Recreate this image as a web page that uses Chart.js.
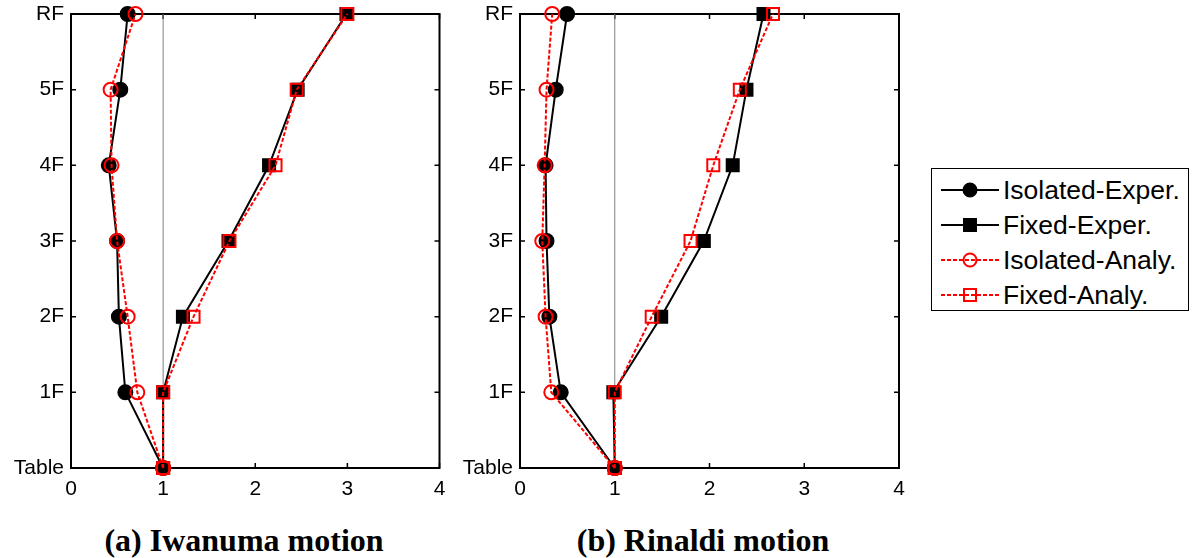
<!DOCTYPE html>
<html>
<head>
<meta charset="utf-8">
<script src="https://cdn.jsdelivr.net/npm/chart.js@4/dist/chart.umd.min.js"></script>
<style>
  body { margin: 0; background: #fff; width: 1193px; height: 558px; position: relative; overflow: hidden; font-family: 'Liberation Sans', Arial, sans-serif; }
  canvas { position: absolute; top: 0; }
  #chartA { left: 0; }
  #chartB { left: 450px; }
  .title { position: absolute; top: 522px; line-height: 1; font: bold 32px 'Liberation Serif', 'Times New Roman', serif; white-space: nowrap; transform: translateX(-50%); }
  #legend { position: absolute; left: 931px; top: 168px; width: 258px; height: 143px; border: 1.5px solid #000; box-sizing: border-box; }
  .item { position: absolute; left: 0; height: 34px; width: 256px; }
  .item svg { position: absolute; left: 9px; top: 7px; }
  .item span { position: absolute; left: 71px; top: 2px; font-size: 26.5px; line-height: 30px; white-space: nowrap; }
</style>
</head>
<body>
<canvas id="chartA" width="450" height="500"></canvas>
<canvas id="chartB" width="460" height="500"></canvas>
<div class="title" style="left:244px">(a) Iwanuma motion</div>
<div class="title" style="left:703px">(b) Rinaldi motion</div>
<div id="legend"></div>
<script>
// Floor levels (bottom to top)
const floors = ['Table', '1F', '2F', '3F', '4F', '5F', 'RF'];
const xTicks = [0, 1, 2, 3, 4];
const refX = 1;

// (a) Iwanuma motion
const iwaIsoExp = [1.0, 0.59, 0.52, 0.50, 0.41, 0.535, 0.615];
const iwaFixExp = [1.0, 1.0, 1.215, 1.71, 2.15, 2.46, 2.99];
const iwaIsoAna = [1.0, 0.72, 0.615, 0.50, 0.44, 0.43, 0.70];
const iwaFixAna = [1.0, 1.0, 1.33, 1.72, 2.22, 2.45, 3.0];

// (b) Rinaldi motion
const rinIsoExp = [1.0, 0.43, 0.31, 0.28, 0.27, 0.377, 0.497];
const rinFixExp = [1.0, 0.985, 1.49, 1.94, 2.245, 2.39, 2.57];
const rinIsoAna = [1.0, 0.33, 0.27, 0.235, 0.26, 0.28, 0.34];
const rinFixAna = [1.0, 1.0, 1.39, 1.80, 2.04, 2.32, 2.67];

const seriesNames = ['Isolated-Exper.', 'Fixed-Exper.', 'Isolated-Analy.', 'Fixed-Analy.'];

// Styles for the four series
const styles = [
  { color: '#000', dash: [], point: 'circle', radius: 7, fill: '#000', order: 2 },
  { color: '#000', dash: [], point: 'rect', radius: 8.5, fill: '#000', order: 2 },
  { color: '#ff0000', dash: [4, 2], point: 'circle', radius: 7, fill: 'rgba(0,0,0,0)', order: 1 },
  { color: '#ff0000', dash: [4, 2], point: 'rect', radius: 8.5, fill: 'rgba(0,0,0,0)', order: 1 }
];

const toPoints = arr => arr.map((v, i) => ({ x: v, y: i }));

function makeDatasets(seriesList) {
  const sets = seriesList.map((arr, k) => {
    const s = styles[k];
    return {
      label: seriesNames[k],
      data: toPoints(arr),
      borderColor: s.color,
      borderWidth: 2,
      borderDash: s.dash,
      pointStyle: s.point,
      pointRadius: s.radius,
      pointBackgroundColor: s.fill,
      pointBorderColor: s.color,
      pointBorderWidth: 2,
      showLine: true,
      clip: false,
      order: s.order
    };
  });
  // gray reference line at x = 1
  sets.push({
    label: 'ref',
    data: [{ x: refX, y: 0 }, { x: refX, y: floors.length - 1 }],
    borderColor: '#808080',
    borderWidth: 1,
    pointRadius: 0,
    showLine: true,
    order: 5
  });
  return sets;
}

// Draws the box and inward tick marks, MATLAB style
const framePlugin = {
  id: 'frame',
  beforeDatasetsDraw(chart) {
    const { ctx, chartArea: a, scales: { x, y } } = chart;
    ctx.save();
    ctx.strokeStyle = '#000';
    ctx.lineWidth = 1.5;
    ctx.beginPath();
    x.ticks.forEach(t => {
      const px = x.getPixelForValue(t.value);
      ctx.moveTo(px, a.bottom); ctx.lineTo(px, a.bottom - 5);
      ctx.moveTo(px, a.top); ctx.lineTo(px, a.top + 5);
    });
    y.ticks.forEach(t => {
      const py = y.getPixelForValue(t.value);
      ctx.moveTo(a.left, py); ctx.lineTo(a.left + 5, py);
      ctx.moveTo(a.right, py); ctx.lineTo(a.right - 5, py);
    });
    ctx.stroke();
    ctx.lineWidth = 2;
    ctx.strokeRect(a.left, a.top, a.right - a.left, a.bottom - a.top);
    ctx.restore();
  }
};

function makeChart(id, seriesList, yWidth, padRight) {
  const tickFont = { family: "'Liberation Sans', Arial, sans-serif", size: 21 };
  return new Chart(document.getElementById(id).getContext('2d'), {
    type: 'scatter',
    data: { datasets: makeDatasets(seriesList) },
    options: {
      responsive: false,
      animation: false,
      events: [],
      layout: { padding: { top: 14, right: padRight, left: 0, bottom: 0 } },
      plugins: { legend: { display: false }, tooltip: { enabled: false } },
      scales: {
        x: {
          type: 'linear',
          min: xTicks[0],
          max: xTicks[xTicks.length - 1],
          afterBuildTicks: scale => { scale.ticks = xTicks.map(v => ({ value: v })); },
          afterFit: scale => {
            scale.height = 32;
            scale.paddingLeft = 0;
            scale.paddingRight = 0;
          },
          grid: { display: false, drawTicks: false },
          border: { display: false },
          ticks: { color: '#000', font: tickFont, padding: 9 }
        },
        y: {
          type: 'linear',
          min: 0,
          max: floors.length - 1,
          afterBuildTicks: scale => { scale.ticks = floors.map((f, i) => ({ value: i })); },
          afterFit: scale => {
            scale.width = yWidth;
            scale.paddingTop = 0;
            scale.paddingBottom = 0;
          },
          grid: { display: false, drawTicks: false },
          border: { display: false },
          ticks: { color: '#000', font: tickFont, padding: 7, callback: v => floors[v] }
        }
      }
    },
    plugins: [framePlugin]
  });
}

makeChart('chartA', [iwaIsoExp, iwaFixExp, iwaIsoAna, iwaFixAna], 71, 8);
makeChart('chartB', [rinIsoExp, rinFixExp, rinIsoAna, rinFixAna], 70, 11);

// Legend with line + marker samples
const legendEl = document.getElementById('legend');
legendEl.innerHTML = seriesNames.map((name, k) => {
  const s = styles[k];
  const dash = s.dash.length ? `stroke-dasharray="${s.dash.join(',')}"` : '';
  const marker = s.point === 'circle'
    ? `<circle cx="29" cy="10" r="6.5" fill="${s.fill}" stroke="${s.color}" stroke-width="2"/>`
    : `<rect x="23" y="4" width="12" height="12" fill="${s.fill}" stroke="${s.color}" stroke-width="2"/>`;
  return `<div class="item" style="top:${4 + k * 35}px">
    <svg width="58" height="20"><line x1="0" y1="10" x2="58" y2="10" stroke="${s.color}" stroke-width="2" ${dash}/>${marker}</svg>
    <span>${name}</span></div>`;
}).join('');
</script>
</body>
</html>
